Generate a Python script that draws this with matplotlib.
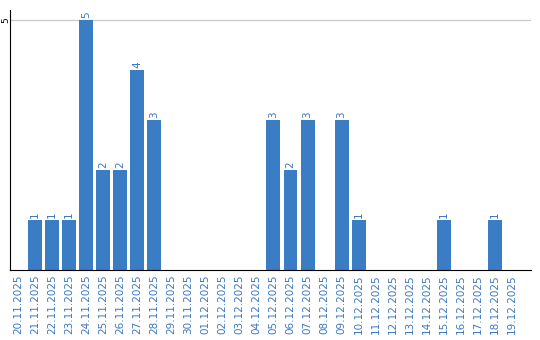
import matplotlib
matplotlib.use("Agg")
import matplotlib.pyplot as plt

dates = ["20.11.2025", "21.11.2025", "22.11.2025", "23.11.2025", "24.11.2025",
         "25.11.2025", "26.11.2025", "27.11.2025", "28.11.2025", "29.11.2025",
         "30.11.2025", "01.12.2025", "02.12.2025", "03.12.2025", "04.12.2025",
         "05.12.2025", "06.12.2025", "07.12.2025", "08.12.2025", "09.12.2025",
         "10.12.2025", "11.12.2025", "12.12.2025", "13.12.2025", "14.12.2025",
         "15.12.2025", "16.12.2025", "17.12.2025", "18.12.2025", "19.12.2025"]
values = [0, 1, 1, 1, 5, 2, 2, 4, 3, 0,
          0, 0, 0, 0, 0, 3, 2, 3, 0, 3,
          1, 0, 0, 0, 0, 1, 0, 0, 1, 0]

bar_color = "#3b7dc4"
text_color = "#3a78c0"

fig = plt.figure(figsize=(5.4, 3.4), dpi=100)
ax = fig.add_axes([10/540, 70/340, 521/540, 260/340])
x = list(range(len(dates)))
ax.bar(x, values, width=0.82, color=bar_color, zorder=2)
for xi, v in zip(x, values):
    if v > 0:
        ax.text(xi, v + 0.04, str(v), rotation=90, ha="center", va="bottom",
                color=text_color, fontsize=7.5)

ax.set_xlim(-0.47, 30.12)
ax.set_ylim(0, 5.2)
ax.set_yticks([5])
ax.set_yticklabels(["5"], rotation=90, va="center", fontsize=6.5)
ax.axhline(5, color="#cccccc", lw=1, zorder=1)
ax.set_xticks(x)
ax.set_xticklabels(dates, rotation=90, color=text_color, fontsize=7.5)
ax.tick_params(axis="x", length=0, pad=3)
ax.tick_params(axis="y", length=0, pad=0)
for s in ["top", "right"]:
    ax.spines[s].set_visible(False)
ax.spines["left"].set_color("black")
ax.spines["bottom"].set_color("black")

fig.savefig("out.png", dpi=100)
